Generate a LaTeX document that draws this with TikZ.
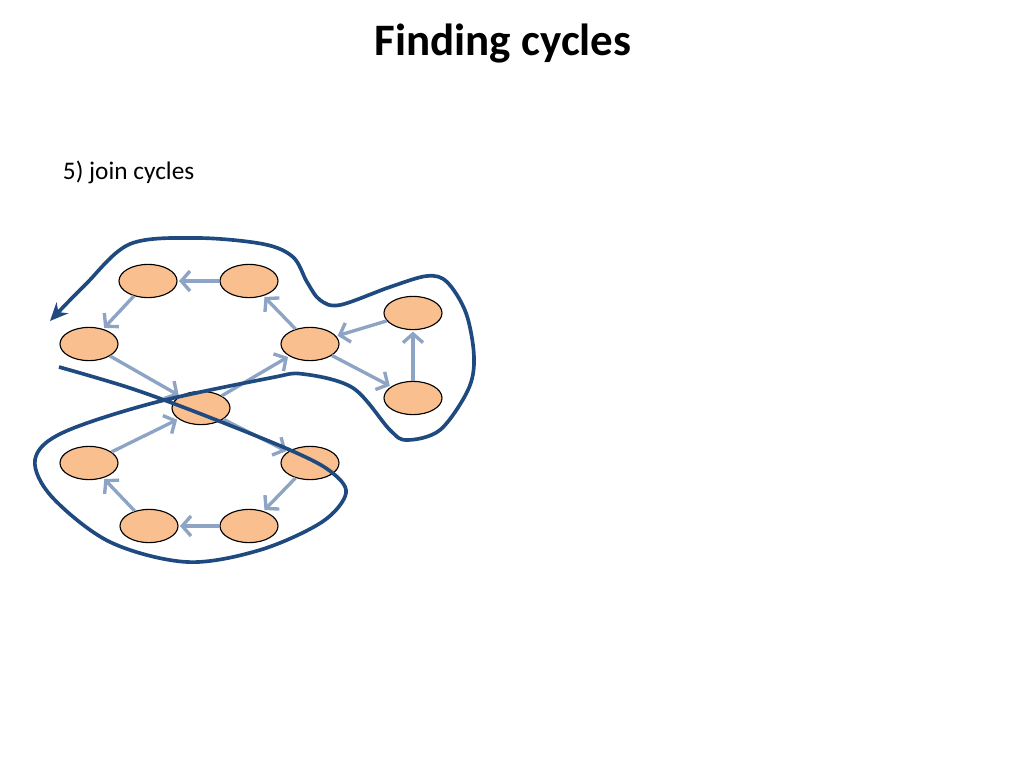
\documentclass[tikz,border=0pt]{standalone}
\usepackage{fontspec}
\setmainfont{Carlito}
\usetikzlibrary{arrows.meta,shapes.geometric}
\definecolor{nodefill}{HTML}{F9BF8F}
\definecolor{edgeblue}{HTML}{8EA4C4}
\definecolor{walkblue}{HTML}{1F4A80}

\begin{document}
\begin{tikzpicture}[x=0.025cm,y=-0.025cm,
  vertex/.style={ellipse,draw=black,fill=nodefill,line width=0.8pt,minimum width=1.45cm,minimum height=0.83cm,inner sep=0pt},
  edge/.style={draw=edgeblue,line width=2.4pt,-{Straight Barb[length=2.2mm,width=5mm]},shorten >=1pt},
  walk/.style={draw=walkblue,line width=2.6pt,-{Stealth[length=4.5mm,width=4mm]}}]
\useasboundingbox (0,0) rectangle (1024,768);
\node[font=\bfseries\fontsize{32}{38}\selectfont] (title) at (503,44) {Finding cycles};
\node[anchor=west,font=\fontsize{18}{22}\selectfont] (step) at (58,172) {5) join cycles};

\node[vertex] (a) at (148,281) {};
\node[vertex] (b) at (249,281) {};
\node[vertex] (c) at (89,344) {};
\node[vertex] (d) at (310,344) {};
\node[vertex] (e) at (201,408) {};
\node[vertex] (f) at (413,313) {};
\node[vertex] (g) at (413,398) {};
\node[vertex] (h) at (89,463) {};
\node[vertex] (i) at (310,463) {};
\node[vertex] (j) at (149,526) {};
\node[vertex] (k) at (249,526) {};

\draw[edge] (b) -- (a);
\draw[edge] (a) -- (c);
\draw[edge] (c) -- (e);
\draw[edge] (e) -- (d);
\draw[edge] (d) -- (b);
\draw[edge] (d) -- (g);
\draw[edge] (g) -- (f);
\draw[edge] (f) -- (d);
\draw[edge] (h) -- (e);
\draw[edge] (e) -- (i);
\draw[edge] (i) -- (k);
\draw[edge] (k) -- (j);
\draw[edge] (j) -- (h);

\draw[walk] plot[smooth,tension=0.55] coordinates {(59,367) (130,388) (201,414) (290,450) (330,471) (346,493) (322,522) (260,550) (187,562) (110,542) (52,497) (35,460) (62,433) (153,403) (270,378) (303,374) (353,388) (390,430) (407,440) (440,430) (468,390) (474,357) (466,313) (447,282) (427,276) (390,287) (340,305) (320,300) (307,282) (293,257) (263,244) (197,238) (130,244) (85,285) (50,321)};
\end{tikzpicture}
\end{document}
